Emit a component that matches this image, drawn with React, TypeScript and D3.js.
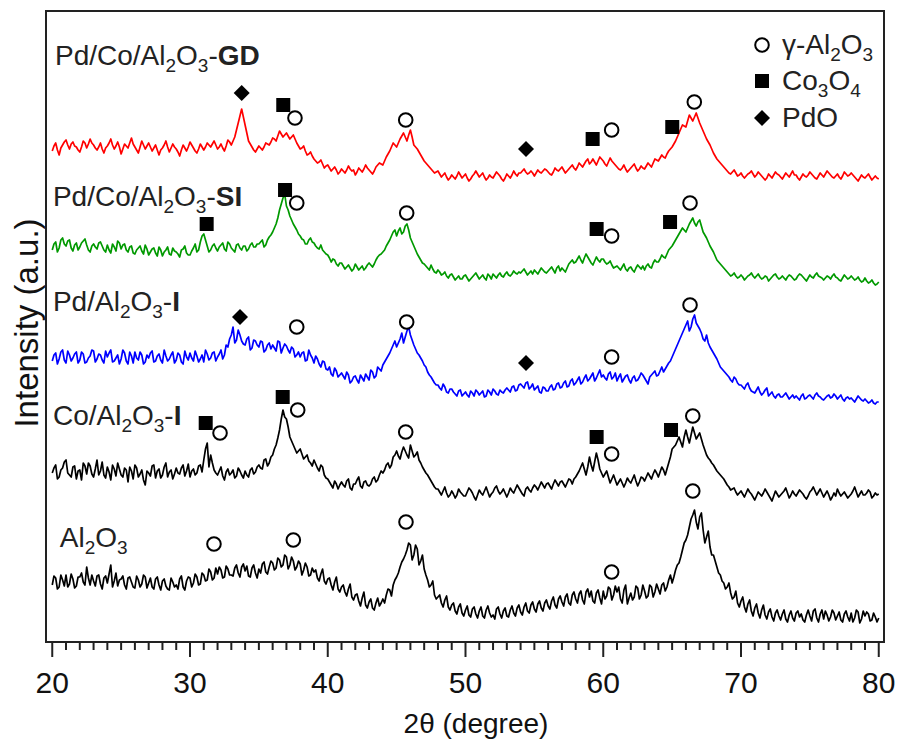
import React from "react";
import * as d3 from "d3";

const W = 898;
const H = 742;
const BOX = { left: 46, top: 11, right: 884, bottom: 642 };

// 2θ grid: readings every 0.25° from 20°, plus half-step readings at 20.125° + 0.25°·k
const X_START = 20;
const X_STEP = 0.25;

// Intensities (a.u.), relative to each pattern's own baseline offset
const al2o3 = [
  40, 47, 38, 45, 50, 41, 46, 39, 48, 43, 58, 40, 44, 49, 41, 47, 42, 60, 44, 39,
  46, 40, 47, 43, 37, 45, 41, 48, 42, 38, 46, 40, 44, 39, 35, 43, 40, 46, 38, 44,
  47, 42, 48, 41, 50, 45, 53, 47, 51, 55, 48, 56, 50, 57, 52, 58, 54, 49, 57, 52,
  56, 61, 53, 58, 62, 57, 65, 60, 68, 60, 64, 58, 61, 55, 58, 50, 53, 47, 51, 44,
  46, 40, 43, 36, 38, 33, 36, 28, 30, 24, 27, 20, 23, 17, 22, 19, 26, 30, 35, 40,
  48, 58, 66, 75, 80, 70, 76, 64, 56, 45, 40, 30, 28, 22, 25, 18, 20, 14, 18, 12,
  15, 10, 16, 11, 14, 9, 15, 12, 10, 16, 11, 14, 9, 15, 12, 17, 13, 18, 14, 20,
  16, 21, 17, 22, 19, 24, 20, 26, 23, 28, 22, 30, 26, 31, 25, 33, 28, 24, 32, 27,
  34, 29, 36, 30, 33, 26, 35, 21, 32, 28, 37, 30, 34, 29, 38, 33, 36, 40, 34, 45,
  42, 55, 62, 75, 85, 98, 110, 103, 108, 95, 88, 78, 70, 58, 50, 42, 38, 32, 28, 22,
  24, 18, 21, 14, 17, 12, 15, 10, 13, 8, 12, 9, 11, 6, 10, 7, 12, 8, 5, 10,
  9, 14, 7, 11, 6, 10, 8, 12, 9, 5, 11, 8, 12, 7, 13, 6, 9, 11, 5, 8, 7,
];
const al2o3Half = [
  49, 36, 50, 39, 38, 51, 37, 48, 52, 40, 47, 50, 39, 50, 36, 49, 51, 38, 52, 45,
  49, 36, 48, 38, 49, 38, 50, 37, 47, 36, 48, 35, 46, 36, 47, 38, 36, 49, 35, 48,
  38, 51, 40, 52, 44, 56, 45, 57, 58, 47, 59, 50, 49, 60, 48, 61, 59, 48, 60, 47,
  52, 63, 51, 64, 55, 67, 58, 70, 56, 68, 55, 64, 50, 62, 49, 57, 55, 44, 56, 41,
  47, 35, 48, 33, 40, 29, 41, 25, 31, 19, 33, 17, 26, 15, 27, 22, 22, 36, 29, 45,
  52, 63, 70, 82, 65, 80, 60, 70, 50, 38, 44, 26, 30, 18, 29, 15, 22, 11, 21, 9,
  19, 8, 18, 7, 18, 7, 19, 8, 6, 18, 7, 17, 8, 19, 9, 20, 10, 22, 12, 23,
  13, 24, 14, 25, 16, 28, 17, 29, 19, 31, 20, 33, 22, 34, 21, 36, 34, 22, 35, 21,
  26, 38, 25, 39, 38, 22, 40, 27, 25, 39, 26, 40, 27, 40, 28, 41, 31, 42, 38, 50,
  48, 60, 68, 82, 90, 106, 115, 96, 112, 82, 94, 70, 64, 52, 44, 36, 42, 26, 34, 18,
  28, 13, 25, 9, 21, 7, 20, 6, 16, 4, 15, 5, 15, 3, 14, 4, 14, 11, 3, 15,
  4, 16, 3, 15, 14, 4, 15, 5, 13, 3, 14, 4, 3, 15, 2, 14, 13, 4, 12, 3,
];

const coAl2o3I = [
  42, 50, 38, 47, 55, 40, 48, 36, 45, 52, 41, 49, 38, 55, 44, 40, 48, 35, 46, 52,
  40, 47, 33, 44, 50, 38, 45, 30, 42, 49, 37, 46, 40, 52, 43, 36, 47, 41, 50, 44,
  38, 46, 42, 50, 55, 72, 60, 45, 40, 48, 35, 46, 42, 37, 47, 40, 44, 38, 47, 43,
  50, 46, 56, 52, 60, 70, 85, 105, 96, 78, 70, 62, 66, 56, 60, 52, 55, 47, 50, 40,
  36, 30, 34, 26, 33, 28, 36, 25, 31, 38, 27, 34, 29, 36, 33, 40, 42, 50, 47, 58,
  64, 56, 68, 60, 70, 58, 63, 52, 45, 40, 34, 28, 26, 20, 28, 18, 24, 17, 26, 21,
  19, 27, 22, 15, 25, 20, 28, 18, 23, 29, 21, 26, 18, 27, 22, 30, 24, 19, 28, 23,
  30, 25, 33, 27, 32, 26, 35, 29, 34, 28, 36, 31, 38, 44, 52, 40, 58, 44, 62, 46,
  38, 44, 32, 40, 30, 36, 28, 37, 32, 40, 29, 38, 34, 42, 36, 45, 38, 48, 40, 52,
  66, 70, 78, 68, 85, 72, 88, 76, 82, 70, 60, 55, 50, 44, 40, 36, 30, 25, 27, 20,
  24, 18, 26, 21, 15, 23, 19, 26, 20, 14, 24, 18, 22, 27, 17, 24, 19, 25, 21, 16,
  23, 28, 20, 26, 18, 24, 15, 22, 26, 19, 23, 17, 21, 28, 18, 24, 20, 25, 17, 22, 21,
];
const coAl2o3IHalf = [
  47, 36, 45, 53, 42, 38, 49, 44, 35, 49, 52, 41, 46, 40, 53, 37, 43, 50, 39, 46,
  38, 45, 48, 36, 47, 41, 35, 44, 39, 50, 44, 37, 48, 38, 45, 41, 42, 47, 39, 51,
  44, 40, 49, 43, 66, 48, 52, 42, 44, 39, 43, 40, 45, 39, 44, 37, 40, 45, 41, 48,
  47, 55, 49, 58, 66, 77, 96, 98, 88, 74, 66, 64, 61, 58, 54, 49, 51, 44, 48, 37,
  33, 27, 31, 30, 30, 34, 27, 31, 35, 29, 33, 30, 31, 38, 35, 44, 45, 52, 50, 60,
  59, 63, 64, 57, 64, 60, 55, 48, 42, 37, 31, 26, 23, 24, 22, 20, 21, 20, 23, 19,
  23, 25, 18, 20, 22, 24, 23, 21, 27, 24, 23, 22, 22, 24, 26, 27, 21, 26, 25, 27,
  28, 29, 30, 31, 29, 31, 32, 33, 31, 32, 35, 36, 41, 48, 46, 48, 50, 53, 55, 42,
  41, 38, 36, 35, 33, 32, 32, 34, 36, 34, 33, 37, 38, 39, 41, 42, 43, 45, 46, 58,
  68, 74, 73, 78, 78, 80, 82, 79, 76, 65, 57, 52, 47, 42, 38, 33, 28, 26, 23, 22,
  21, 22, 23, 18, 19, 21, 22, 23, 17, 19, 21, 20, 24, 22, 20, 21, 22, 23, 18, 19,
  25, 24, 23, 22, 21, 20, 18, 19, 22, 21, 20, 19, 24, 23, 21, 20, 22, 23, 19, 20,
];

const pdAl2o3I = [
  44, 52, 46, 55, 42, 50, 47, 53, 45, 51, 43, 49, 54, 46, 50, 42, 48, 55, 44, 50,
  46, 52, 41, 49, 53, 45, 50, 43, 47, 54, 44, 51, 42, 49, 46, 53, 45, 50, 41, 48,
  52, 44, 49, 46, 43, 51, 47, 53, 48, 55, 50, 58, 70, 62, 75, 64, 60, 68, 57, 64,
  58, 63, 55, 62, 60, 54, 63, 57, 59, 52, 56, 50, 48, 53, 45, 50, 42, 46, 38, 43,
  35, 31, 37, 28, 32, 26, 30, 24, 29, 22, 27, 31, 25, 33, 29, 36, 40, 46, 52, 60,
  58, 66, 62, 74, 70, 60, 52, 47, 40, 33, 28, 22, 20, 15, 18, 12, 16, 11, 14, 9,
  13, 8, 12, 15, 10, 14, 9, 13, 16, 11, 15, 12, 17, 13, 19, 15, 21, 17, 23, 18,
  15, 19, 12, 17, 14, 20, 16, 22, 18, 24, 19, 26, 22, 28, 23, 30, 26, 32, 27, 35,
  30, 25, 33, 28, 24, 31, 26, 30, 22, 29, 25, 32, 27, 21, 30, 34, 30, 38, 36, 42,
  48, 56, 64, 72, 80, 74, 86, 82, 76, 66, 70, 58, 52, 46, 38, 34, 30, 25, 28, 22,
  20, 16, 22, 14, 12, 18, 10, 15, 9, 13, 7, 11, 8, 12, 6, 10, 9, 5, 11, 7,
  10, 6, 12, 8, 5, 9, 7, 11, 6, 10, 4, 8, 7, 3, 9, 5, 6, 2, 5, 1, 3,
];
const pdAl2o3IHalf = [
  50, 41, 53, 45, 54, 44, 51, 42, 53, 42, 47, 55, 43, 51, 45, 54, 52, 43, 47, 41,
  55, 44, 53, 42, 47, 53, 41, 50, 52, 43, 49, 45, 55, 44, 50, 42, 52, 43, 54, 45,
  47, 54, 43, 50, 55, 45, 52, 44, 51, 46, 60, 66, 78, 65, 70, 61, 66, 55, 65, 60,
  64, 53, 60, 56, 57, 64, 52, 61, 55, 58, 48, 53, 52, 44, 55, 47, 49, 41, 44, 36,
  38, 29, 34, 30, 29, 33, 22, 28, 25, 30, 24, 28, 35, 27, 38, 34, 43, 49, 56, 64,
  62, 72, 68, 78, 65, 56, 50, 44, 38, 30, 25, 20, 17, 21, 13, 16, 13, 9, 15, 11,
  10, 14, 9, 13, 12, 8, 15, 10, 14, 10, 13, 15, 15, 18, 14, 20, 19, 22, 16, 21,
  17, 13, 18, 14, 18, 15, 21, 17, 22, 18, 24, 20, 25, 21, 27, 24, 29, 24, 31, 28,
  27, 31, 26, 32, 28, 23, 29, 25, 27, 24, 28, 30, 24, 28, 32, 29, 34, 33, 39, 44,
  52, 60, 68, 76, 84, 78, 90, 79, 72, 64, 62, 55, 49, 42, 36, 32, 28, 23, 26, 20,
  18, 20, 17, 13, 15, 13, 12, 17, 11, 9, 10, 8, 10, 9, 8, 7, 7, 9, 6, 9,
  8, 10, 9, 6, 7, 10, 8, 9, 8, 6, 7, 6, 5, 6, 7, 4, 4, 3, 2, 3,
];

const pdCoSI = [
  40, 48, 42, 52, 44, 50, 39, 47, 43, 49, 45, 38, 46, 41, 48, 40, 45, 37, 43, 49,
  41, 46, 38, 44, 36, 42, 39, 45, 35, 41, 37, 43, 34, 40, 36, 42, 38, 33, 41, 37,
  35, 42, 38, 48, 56, 44, 40, 46, 39, 45, 41, 48, 42, 38, 46, 40, 44, 41, 47, 43,
  46, 50, 45, 53, 58, 66, 80, 92, 84, 74, 66, 60, 54, 50, 46, 52, 47, 42, 45, 38,
  35, 28, 30, 24, 27, 21, 25, 19, 26, 20, 24, 22, 27, 23, 30, 35, 38, 44, 50, 58,
  54, 62, 58, 66, 52, 44, 36, 30, 26, 22, 25, 18, 20, 15, 18, 12, 16, 10, 14, 11,
  15, 9, 13, 17, 11, 15, 10, 14, 16, 12, 17, 13, 18, 14, 19, 16, 17, 21, 15, 19,
  20, 16, 22, 18, 19, 23, 17, 24, 22, 18, 26, 30, 28, 34, 27, 36, 30, 25, 33, 28,
  31, 26, 29, 22, 24, 20, 26, 19, 23, 18, 25, 21, 20, 26, 22, 30, 28, 35, 32, 40,
  44, 50, 56, 62, 58, 66, 72, 64, 70, 58, 52, 44, 38, 30, 26, 22, 18, 14, 17, 12,
  15, 10, 14, 17, 12, 16, 11, 14, 9, 13, 16, 11, 14, 10, 15, 12, 11, 16, 13, 9,
  15, 12, 17, 13, 10, 14, 11, 16, 12, 9, 15, 11, 14, 10, 13, 8, 12, 7, 10, 5, 8,
];
const pdCoSIHalf = [
  46, 38, 50, 46, 49, 42, 45, 40, 47, 51, 40, 44, 43, 47, 44, 38, 40, 46, 39, 47,
  45, 40, 43, 37, 40, 44, 36, 41, 38, 42, 34, 40, 38, 43, 35, 39, 36, 40, 44, 35,
  39, 46, 40, 54, 50, 38, 44, 42, 43, 47, 39, 46, 40, 45, 42, 44, 39, 45, 43, 46,
  48, 43, 50, 55, 62, 72, 86, 96, 80, 70, 63, 56, 51, 46, 50, 48, 44, 41, 40, 36,
  32, 31, 26, 27, 24, 23, 22, 21, 23, 22, 20, 25, 25, 26, 33, 36, 40, 47, 54, 60,
  59, 56, 64, 60, 48, 40, 33, 27, 24, 20, 21, 17, 18, 16, 14, 15, 13, 12, 11, 14,
  12, 11, 15, 14, 13, 12, 16, 11, 14, 15, 14, 16, 15, 16, 17, 18, 19, 18, 17, 16,
  18, 19, 20, 17, 21, 20, 22, 19, 20, 22, 28, 27, 31, 30, 32, 33, 27, 29, 30, 31,
  28, 27, 25, 23, 22, 23, 21, 22, 20, 22, 23, 24, 24, 23, 27, 28, 31, 33, 36, 42,
  47, 53, 59, 60, 62, 69, 67, 68, 64, 55, 48, 41, 34, 28, 24, 20, 16, 15, 14, 13,
  13, 12, 15, 14, 14, 13, 12, 13, 11, 15, 13, 12, 12, 13, 14, 10, 14, 15, 11, 12,
  13, 15, 14, 12, 12, 13, 14, 13, 10, 12, 13, 12, 12, 11, 10, 9, 9, 8, 7, 6,
];

const pdCoGD = [
  34, 42, 30, 40, 45, 36, 43, 38, 33, 44, 37, 46, 40, 35, 42, 32, 39, 46, 36, 43,
  31, 41, 37, 47, 38, 32, 44, 36, 42, 34, 40, 30, 37, 44, 33, 41, 36, 29, 40, 34,
  43, 37, 32, 41, 35, 42, 38, 44, 36, 41, 34, 45, 40, 48, 62, 76, 60, 44, 38, 33,
  39, 35, 42, 40, 47, 44, 54, 48, 52, 46, 50, 42, 36, 39, 30, 33, 26, 22, 25, 17,
  20, 14, 18, 11, 16, 12, 19, 14, 10, 17, 13, 20, 15, 11, 18, 22, 20, 28, 34, 42,
  38, 46, 52, 44, 55, 40, 36, 30, 24, 20, 16, 12, 14, 8, 12, 5, 10, 6, 13, 7,
  11, 4, 9, 14, 8, 12, 5, 10, 7, 13, 9, 4, 11, 7, 14, 9, 12, 16, 11, 14,
  9, 15, 12, 16, 13, 10, 17, 14, 18, 12, 16, 20, 15, 22, 18, 24, 21, 26, 20, 28,
  24, 19, 27, 22, 18, 15, 20, 13, 17, 21, 14, 19, 16, 22, 18, 26, 24, 30, 27, 34,
  38, 44, 52, 60, 58, 70, 64, 72, 62, 54, 46, 40, 32, 26, 22, 18, 14, 11, 15, 9,
  12, 7, 11, 14, 8, 13, 9, 5, 11, 7, 13, 10, 6, 12, 8, 14, 10, 5, 11, 8,
  13, 9, 6, 12, 8, 14, 10, 7, 11, 6, 13, 9, 12, 8, 4, 10, 7, 11, 5, 9, 6,
];
const pdCoGDHalf = [
  39, 35, 37, 43, 40, 41, 39, 35, 38, 42, 41, 42, 37, 38, 36, 37, 42, 40, 39, 38,
  36, 39, 42, 41, 35, 38, 40, 39, 38, 37, 35, 35, 40, 38, 37, 38, 33, 35, 37, 38,
  40, 34, 36, 38, 38, 40, 41, 40, 38, 37, 39, 43, 44, 55, 69, 68, 52, 41, 35, 36,
  37, 38, 41, 43, 46, 49, 51, 50, 49, 48, 46, 39, 37, 34, 31, 29, 24, 23, 21, 19,
  17, 16, 15, 13, 14, 15, 16, 15, 13, 15, 16, 17, 13, 14, 20, 21, 24, 31, 38, 40,
  42, 49, 48, 50, 48, 38, 33, 27, 22, 18, 14, 13, 11, 10, 8, 7, 8, 9, 10, 9,
  7, 6, 11, 11, 10, 8, 7, 8, 10, 11, 6, 7, 9, 10, 11, 12, 14, 13, 12, 12,
  12, 13, 14, 15, 11, 13, 15, 16, 15, 14, 18, 17, 18, 20, 21, 26, 23, 23, 24, 26,
  21, 23, 24, 20, 16, 17, 16, 15, 19, 17, 16, 17, 19, 20, 22, 25, 27, 28, 31, 36,
  41, 48, 56, 59, 64, 67, 68, 67, 58, 50, 43, 36, 29, 24, 20, 16, 12, 13, 12, 10,
  9, 9, 12, 11, 10, 11, 7, 7, 9, 10, 11, 8, 9, 10, 11, 10, 7, 8, 9, 10,
  11, 7, 9, 10, 11, 12, 8, 9, 8, 9, 11, 10, 10, 6, 7, 8, 9, 8, 7, 7,
];

const seriesMain = [al2o3, coAl2o3I, pdAl2o3I, pdCoSI, pdCoGD];
const seriesHalf = [al2o3Half, coAl2o3IHalf, pdAl2o3IHalf, pdCoSIHalf, pdCoGDHalf];
const seriesColors = ["#000000", "#000000", "#0000ff", "#009900", "#ff0000"];
const seriesOffsets = [17, 127, 237, 352, 457];

// Sample labels: plain prefix, bold suffix, anchor (2θ, intensity)
const labelPrefix = ["Al", "Co/Al", "Pd/Al", "Pd/Co/Al", "Pd/Co/Al"];
const labelBold = ["", "I", "I", "SI", "GD"];
const labelX = [20.55, 20.05, 20.05, 20.05, 20.2];
const labelY = [95, 217, 331, 436, 577];

// Phase markers: [phase, 2θ, intensity position]
type Mark = [string, number, number];
const markers: Mark[] = [
  // Al2O3
  ["g", 31.74, 98], ["g", 37.5, 102], ["g", 45.68, 120], ["g", 60.61, 70], ["g", 66.5, 151],
  // Co/Al2O3-I
  ["c", 31.14, 219], ["g", 32.18, 209], ["c", 36.73, 245], ["g", 37.82, 232], ["g", 45.66, 210],
  ["c", 59.52, 205], ["g", 60.61, 188], ["c", 64.92, 212], ["g", 66.5, 226],
  // Pd/Al2O3-I
  ["p", 33.63, 325], ["g", 37.75, 315], ["g", 45.73, 320], ["p", 54.39, 279], ["g", 60.61, 285], ["g", 66.3, 337],
  // Pd/Co/Al2O3-SI
  ["c", 31.21, 418], ["c", 36.9, 452], ["g", 37.75, 439], ["g", 45.73, 429], ["c", 59.52, 413],
  ["g", 60.61, 406], ["c", 64.85, 420], ["g", 66.3, 439],
  // Pd/Co/Al2O3-GD
  ["p", 33.75, 549], ["c", 36.77, 537], ["g", 37.62, 524], ["g", 45.66, 522], ["p", 54.39, 493],
  ["c", 59.23, 503], ["g", 60.61, 512], ["c", 65.01, 515], ["g", 66.61, 540],
];

const xTicks = [20, 30, 40, 50, 60, 70, 80];

const LABEL_FS = 28;
const SUB_FS = 19;
const SUB_DY = 7;

function Marker({ kind, x, y }: { kind: string; x: number; y: number }) {
  if (kind === "g")
    return <circle cx={x} cy={y} r={6.8} fill="#fff" stroke="#000" strokeWidth={2} />;
  if (kind === "c")
    return <rect x={x - 7} y={y - 7} width={14} height={14} fill="#000" />;
  return (
    <path d={`M${x},${y - 8}L${x + 8},${y}L${x},${y + 8}L${x - 8},${y}Z`} fill="#000" />
  );
}

function SampleLabel({ i, x, y }: { i: number; x: number; y: number }) {
  return (
    <text x={x} y={y} fontSize={LABEL_FS} fill="#222">
      {labelPrefix[i]}
      <tspan fontSize={SUB_FS} dy={SUB_DY}>2</tspan>
      <tspan dy={-SUB_DY}>O</tspan>
      <tspan fontSize={SUB_FS} dy={SUB_DY}>3</tspan>
      <tspan dy={-SUB_DY}>{labelBold[i] ? "-" : ""}</tspan>
      {labelBold[i] ? <tspan fontWeight="bold">{labelBold[i]}</tspan> : null}
    </text>
  );
}

// merge the quarter-degree readings with the half-step readings into [2θ, I] pairs
function mergeReadings(main: number[], half: number[]): [number, number][] {
  const pts: [number, number][] = [];
  main.forEach((v, i) => {
    pts.push([X_START + i * X_STEP, v]);
    if (i < half.length) pts.push([X_START + i * X_STEP + X_STEP / 2, half[i]]);
  });
  return pts;
}

export default function App() {
  const x = d3.scaleLinear().domain([20, 80]).range([52.25, 878.75]);
  const y = d3.scaleLinear().domain([0, 631]).range([642, 11]);

  const line = (pts: [number, number][], off: number) =>
    d3
      .line<[number, number]>()
      .x((d) => x(d[0]))
      .y((d) => y(d[1] + off))(pts) as string;

  const minorTicks = d3.range(20, 81, 1).filter((t) => t % 10 !== 0);

  return (
    <svg
      width={W}
      height={H}
      style={{ position: "absolute", left: 0, top: 0, fontFamily: "'Liberation Sans', Arial, sans-serif" }}
    >
      <rect width={W} height={H} fill="#fff" />
      {seriesMain.map((arr, i) => (
        <path
          key={i}
          d={line(mergeReadings(arr, seriesHalf[i]), seriesOffsets[i])}
          fill="none"
          stroke={seriesColors[i]}
          strokeWidth={1.7}
          strokeLinejoin="round"
        />
      ))}
      {markers.map((m, i) => (
        <Marker key={i} kind={m[0]} x={x(m[1])} y={y(m[2])} />
      ))}
      {labelPrefix.map((_, i) => (
        <SampleLabel key={i} i={i} x={x(labelX[i])} y={y(labelY[i])} />
      ))}

      {/* frame */}
      <rect
        x={BOX.left}
        y={BOX.top}
        width={BOX.right - BOX.left}
        height={BOX.bottom - BOX.top}
        fill="none"
        stroke="#222"
        strokeWidth={2}
      />
      {/* x ticks */}
      {minorTicks.map((t) => (
        <line key={t} x1={x(t)} x2={x(t)} y1={BOX.bottom} y2={BOX.bottom + 8} stroke="#222" strokeWidth={2} />
      ))}
      {xTicks.map((t) => (
        <g key={t}>
          <line x1={x(t)} x2={x(t)} y1={BOX.bottom} y2={BOX.bottom + 15} stroke="#222" strokeWidth={2} />
          <text x={x(t)} y={693} textAnchor="middle" fontSize={30} fill="#111">
            {t}
          </text>
        </g>
      ))}
      <text x={476} y={733} textAnchor="middle" fontSize={28} fill="#111">
        2θ (degree)
      </text>
      <text
        transform="translate(38,323) rotate(-90)"
        textAnchor="middle"
        fontSize={33}
        fill="#111"
      >
        Intensity (a.u.)
      </text>

      {/* legend */}
      <Marker kind="g" x={762} y={45} />
      <Marker kind="c" x={762} y={81} />
      <Marker kind="p" x={762} y={118} />
      <text x={782} y={54} fontSize={LABEL_FS} fill="#222">
        γ-Al<tspan fontSize={SUB_FS} dy={SUB_DY}>2</tspan>
        <tspan dy={-SUB_DY}>O</tspan>
        <tspan fontSize={SUB_FS} dy={SUB_DY}>3</tspan>
      </text>
      <text x={782} y={90} fontSize={LABEL_FS} fill="#222">
        Co<tspan fontSize={SUB_FS} dy={SUB_DY}>3</tspan>
        <tspan dy={-SUB_DY}>O</tspan>
        <tspan fontSize={SUB_FS} dy={SUB_DY}>4</tspan>
      </text>
      <text x={782} y={127} fontSize={LABEL_FS} fill="#222">
        PdO
      </text>
    </svg>
  );
}
